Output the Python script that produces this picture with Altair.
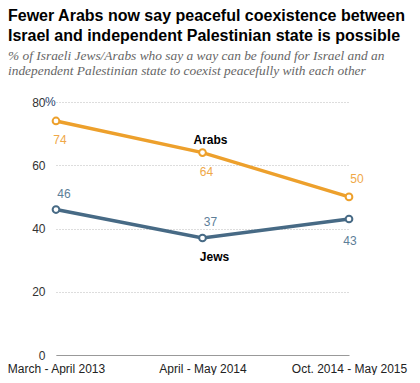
import altair as alt
import pandas as pd

periods = ["March - April 2013", "April - May 2014", "Oct. 2014 - May 2015"]
series = ["Arabs", "Jews"]
arabs = [74, 64, 50]
jews = [46, 37, 43]
arabs_label_pos = ["below", "below", "above"]
jews_label_pos = ["above", "above", "below"]

rows = []
for i, p in enumerate(periods):
    rows.append({"period": p, "series": "Arabs", "value": arabs[i], "pos": arabs_label_pos[i], "idx": i})
    rows.append({"period": p, "series": "Jews", "value": jews[i], "pos": jews_label_pos[i], "idx": i})
df = pd.DataFrame(rows)

colors = ["#EDA02C", "#476A85"]
label_colors = ["#F0A848", "#5D7E98"]

x_enc = alt.X("period:O", sort=periods, scale=alt.Scale(type="point", padding=0),
              axis=alt.Axis(title=None, labelAngle=0, ticks=False, domain=True,
                            domainColor="#999999", labelFontSize=12, labelColor="#222222",
                            labelFont="Liberation Sans", labelPadding=8, grid=False))
x_plain = alt.X("period:O", sort=periods)
y_enc = alt.Y("value:Q", scale=alt.Scale(domain=[0, 80]),
              axis=alt.Axis(title=None, values=[0, 20, 40, 60, 80], ticks=False, domain=False,
                            grid=True, gridDash=[1, 2], gridColor="#BBBBBB",
                            labelFontSize=12, labelColor="#333333", labelFont="Liberation Sans",
                            labelPadding=11))
color_enc = alt.Color("series:N", scale=alt.Scale(domain=series, range=colors), legend=None)

base = alt.Chart(df)

lines = base.mark_line(strokeWidth=3.5).encode(x=x_enc, y=y_enc, color=color_enc)
points = base.mark_point(filled=True, fill="white", size=45, strokeWidth=2, opacity=1).encode(
    x=x_plain, y="value:Q",
    stroke=alt.Stroke("series:N", scale=alt.Scale(domain=series, range=colors), legend=None))


def val_text(cond, col, dx, dy):
    return base.transform_filter(cond).mark_text(
        fontSize=12, font="Liberation Sans", dy=dy, dx=dx).encode(
        x=x_plain, y="value:Q", text="value:Q", color=alt.value(col))


arab_below = val_text("datum.series == 'Arabs' && datum.pos == 'below'", label_colors[0], 4, 19)
arab_above = val_text("datum.series == 'Arabs' && datum.pos == 'above'", label_colors[0], 8, -18)
jew_above = val_text("datum.series == 'Jews' && datum.pos == 'above'", label_colors[1], 8, -16)
jew_below = val_text("datum.series == 'Jews' && datum.pos == 'below'", label_colors[1], 1, 22)

arab_name = base.transform_filter("datum.series == 'Arabs' && datum.idx == 1").mark_text(
    fontSize=12, font="Liberation Sans", fontWeight="bold", dy=-13, dx=8, color="black").encode(
    x=x_plain, y="value:Q", text="series:N")
jew_name = base.transform_filter("datum.series == 'Jews' && datum.idx == 1").mark_text(
    fontSize=12, font="Liberation Sans", fontWeight="bold", dy=19, dx=12, color="black").encode(
    x=x_plain, y="value:Q", text="series:N")

pct = alt.Chart(pd.DataFrame({"v": [80]})).mark_text(
    text="%", align="left", fontSize=12, font="Liberation Sans", color="#1F3F6E").encode(
    x=alt.value(-11), y="v:Q")

chart = alt.layer(lines, points, arab_below, arab_above, jew_above, jew_below, arab_name, jew_name, pct).properties(
    width=293, height=253,
    autosize=alt.AutoSizeParams(type="none"),
    padding={"left": 48, "top": 94, "right": 63, "bottom": 20},
    title=alt.TitleParams(
        text=["Fewer Arabs now say peaceful coexistence between",
              "Israel and independent Palestinian state is possible"],
        subtitle=["% of Israeli Jews/Arabs who say a way can be found for Israel and an",
                  "independent Palestinian state to coexist peacefully with each other"],
        anchor="start", frame="group", dx=-48, offset=19,
        font="Liberation Sans", fontSize=16, fontWeight="bold", color="#000000", lineHeight=20,
        subtitleFont="Liberation Serif", subtitleFontSize=13.4, subtitleFontStyle="italic",
        subtitleColor="#666666", subtitleLineHeight=15, subtitlePadding=5),
).configure_view(stroke=None)

chart.save("out.html", embed_options={"renderer": "svg", "actions": False})
